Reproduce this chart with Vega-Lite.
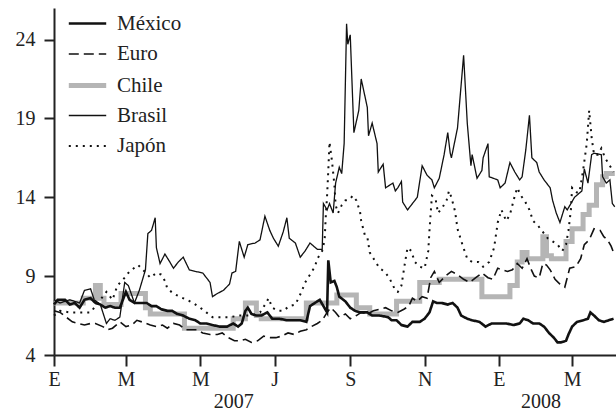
{
  "$schema": "https://vega.github.io/schema/vega-lite/v6.json",
  "width": 562,
  "height": 347,
  "autosize": {"type": "none"},
  "padding": {"left": 54, "top": 8, "right": 0, "bottom": 59},
  "background": "white",
  "config": {
    "view": {"stroke": null},
    "font": "Liberation Serif",
    "axis": {
      "labelFont": "Liberation Serif",
      "labelFontSize": 20,
      "labelColor": "#222222",
      "domainColor": "#222222",
      "tickColor": "#222222",
      "domainWidth": 2,
      "tickWidth": 2,
      "grid": false,
      "title": null,
      "labelFlush": false,
      "labelOverlap": false,
      "labelBound": false
    },
    "legend": {
      "orient": "none",
      "legendX": 12,
      "legendY": -5,
      "title": null,
      "symbolType": "stroke",
      "symbolSize": 1400,
      "labelFont": "Liberation Serif",
      "labelFontSize": 21,
      "labelColor": "#222222",
      "labelOffset": 8,
      "rowPadding": 0,
      "padding": 0
    }
  },
  "datasets": {
    "chile": [
      {"serie": "Chile", "fecha": "2007-01-01", "valor": 7.3},
      {"serie": "Chile", "fecha": "2007-01-25", "valor": 7.6},
      {"serie": "Chile", "fecha": "2007-02-04", "valor": 8.4},
      {"serie": "Chile", "fecha": "2007-02-08", "valor": 7.6},
      {"serie": "Chile", "fecha": "2007-02-11", "valor": 7.2},
      {"serie": "Chile", "fecha": "2007-02-25", "valor": 7.9},
      {"serie": "Chile", "fecha": "2007-03-17", "valor": 7.0},
      {"serie": "Chile", "fecha": "2007-03-21", "valor": 6.6},
      {"serie": "Chile", "fecha": "2007-04-18", "valor": 5.7},
      {"serie": "Chile", "fecha": "2007-05-28", "valor": 6.3},
      {"serie": "Chile", "fecha": "2007-06-07", "valor": 7.3},
      {"serie": "Chile", "fecha": "2007-06-16", "valor": 6.5},
      {"serie": "Chile", "fecha": "2007-06-20", "valor": 6.3},
      {"serie": "Chile", "fecha": "2007-07-27", "valor": 7.3},
      {"serie": "Chile", "fecha": "2007-08-21", "valor": 7.8},
      {"serie": "Chile", "fecha": "2007-09-06", "valor": 7.0},
      {"serie": "Chile", "fecha": "2007-09-17", "valor": 6.6},
      {"serie": "Chile", "fecha": "2007-10-09", "valor": 7.4},
      {"serie": "Chile", "fecha": "2007-10-28", "valor": 8.6},
      {"serie": "Chile", "fecha": "2007-11-13", "valor": 8.8},
      {"serie": "Chile", "fecha": "2007-12-18", "valor": 7.7},
      {"serie": "Chile", "fecha": "2008-01-10", "valor": 8.4},
      {"serie": "Chile", "fecha": "2008-01-16", "valor": 9.9},
      {"serie": "Chile", "fecha": "2008-01-20", "valor": 10.5},
      {"serie": "Chile", "fecha": "2008-01-24", "valor": 10.1},
      {"serie": "Chile", "fecha": "2008-02-06", "valor": 11.5},
      {"serie": "Chile", "fecha": "2008-02-09", "valor": 10.3},
      {"serie": "Chile", "fecha": "2008-02-13", "valor": 10.1},
      {"serie": "Chile", "fecha": "2008-02-25", "valor": 11.2},
      {"serie": "Chile", "fecha": "2008-03-01", "valor": 12.0},
      {"serie": "Chile", "fecha": "2008-03-10", "valor": 12.9},
      {"serie": "Chile", "fecha": "2008-03-15", "valor": 13.5},
      {"serie": "Chile", "fecha": "2008-03-21", "valor": 14.8},
      {"serie": "Chile", "fecha": "2008-03-26", "valor": 15.3},
      {"serie": "Chile", "fecha": "2008-03-29", "valor": 15.5},
      {"serie": "Chile", "fecha": "2008-04-05", "valor": 15.5}
    ],
    "lineas": [
      {"serie": "México", "fecha": "2007-01-01", "valor": 7.2},
      {"serie": "México", "fecha": "2007-01-04", "valor": 7.5},
      {"serie": "México", "fecha": "2007-01-10", "valor": 7.5},
      {"serie": "México", "fecha": "2007-01-14", "valor": 7.2},
      {"serie": "México", "fecha": "2007-01-18", "valor": 7.3},
      {"serie": "México", "fecha": "2007-01-22", "valor": 7.0},
      {"serie": "México", "fecha": "2007-01-26", "valor": 7.5},
      {"serie": "México", "fecha": "2007-01-31", "valor": 7.6},
      {"serie": "México", "fecha": "2007-02-04", "valor": 7.3},
      {"serie": "México", "fecha": "2007-02-08", "valor": 7.2},
      {"serie": "México", "fecha": "2007-02-12", "valor": 7.0},
      {"serie": "México", "fecha": "2007-02-16", "valor": 7.1},
      {"serie": "México", "fecha": "2007-02-20", "valor": 7.0},
      {"serie": "México", "fecha": "2007-02-24", "valor": 7.0},
      {"serie": "México", "fecha": "2007-02-27", "valor": 7.6},
      {"serie": "México", "fecha": "2007-03-01", "valor": 8.0},
      {"serie": "México", "fecha": "2007-03-04", "valor": 7.5},
      {"serie": "México", "fecha": "2007-03-08", "valor": 7.3},
      {"serie": "México", "fecha": "2007-03-12", "valor": 7.3},
      {"serie": "México", "fecha": "2007-03-18", "valor": 7.3},
      {"serie": "México", "fecha": "2007-03-22", "valor": 7.1},
      {"serie": "México", "fecha": "2007-03-26", "valor": 7.1},
      {"serie": "México", "fecha": "2007-03-30", "valor": 6.9},
      {"serie": "México", "fecha": "2007-04-04", "valor": 6.8},
      {"serie": "México", "fecha": "2007-04-08", "valor": 6.8},
      {"serie": "México", "fecha": "2007-04-12", "valor": 6.6},
      {"serie": "México", "fecha": "2007-04-17", "valor": 6.5},
      {"serie": "México", "fecha": "2007-04-22", "valor": 6.3},
      {"serie": "México", "fecha": "2007-04-27", "valor": 6.2},
      {"serie": "México", "fecha": "2007-05-01", "valor": 6.0},
      {"serie": "México", "fecha": "2007-05-06", "valor": 6.0},
      {"serie": "México", "fecha": "2007-05-11", "valor": 5.9},
      {"serie": "México", "fecha": "2007-05-17", "valor": 5.8},
      {"serie": "México", "fecha": "2007-05-23", "valor": 5.8},
      {"serie": "México", "fecha": "2007-05-28", "valor": 6.0},
      {"serie": "México", "fecha": "2007-06-01", "valor": 5.8},
      {"serie": "México", "fecha": "2007-06-04", "valor": 6.0},
      {"serie": "México", "fecha": "2007-06-07", "valor": 6.8},
      {"serie": "México", "fecha": "2007-06-09", "valor": 7.0},
      {"serie": "México", "fecha": "2007-06-12", "valor": 6.6},
      {"serie": "México", "fecha": "2007-06-16", "valor": 6.5},
      {"serie": "México", "fecha": "2007-06-20", "valor": 6.5},
      {"serie": "México", "fecha": "2007-06-25", "valor": 6.7},
      {"serie": "México", "fecha": "2007-06-29", "valor": 6.3},
      {"serie": "México", "fecha": "2007-07-05", "valor": 6.3},
      {"serie": "México", "fecha": "2007-07-11", "valor": 6.2},
      {"serie": "México", "fecha": "2007-07-16", "valor": 6.2},
      {"serie": "México", "fecha": "2007-07-22", "valor": 6.2},
      {"serie": "México", "fecha": "2007-07-27", "valor": 6.1},
      {"serie": "México", "fecha": "2007-07-30", "valor": 7.1},
      {"serie": "México", "fecha": "2007-08-03", "valor": 7.3},
      {"serie": "México", "fecha": "2007-08-07", "valor": 7.5},
      {"serie": "México", "fecha": "2007-08-10", "valor": 7.1},
      {"serie": "México", "fecha": "2007-08-13", "valor": 6.7},
      {"serie": "México", "fecha": "2007-08-14", "valor": 10.0},
      {"serie": "México", "fecha": "2007-08-16", "valor": 8.6},
      {"serie": "México", "fecha": "2007-08-19", "valor": 8.7},
      {"serie": "México", "fecha": "2007-08-21", "valor": 8.3},
      {"serie": "México", "fecha": "2007-08-23", "valor": 7.7},
      {"serie": "México", "fecha": "2007-08-28", "valor": 7.4},
      {"serie": "México", "fecha": "2007-09-01", "valor": 7.0},
      {"serie": "México", "fecha": "2007-09-05", "valor": 6.8},
      {"serie": "México", "fecha": "2007-09-09", "valor": 6.7},
      {"serie": "México", "fecha": "2007-09-15", "valor": 6.7},
      {"serie": "México", "fecha": "2007-09-19", "valor": 6.5},
      {"serie": "México", "fecha": "2007-09-25", "valor": 6.5},
      {"serie": "México", "fecha": "2007-10-02", "valor": 6.4},
      {"serie": "México", "fecha": "2007-10-05", "valor": 6.2},
      {"serie": "México", "fecha": "2007-10-09", "valor": 6.2},
      {"serie": "México", "fecha": "2007-10-13", "valor": 5.9},
      {"serie": "México", "fecha": "2007-10-18", "valor": 5.8},
      {"serie": "México", "fecha": "2007-10-22", "valor": 6.1},
      {"serie": "México", "fecha": "2007-10-28", "valor": 6.1},
      {"serie": "México", "fecha": "2007-11-01", "valor": 6.3},
      {"serie": "México", "fecha": "2007-11-05", "valor": 6.7},
      {"serie": "México", "fecha": "2007-11-08", "valor": 7.4},
      {"serie": "México", "fecha": "2007-11-11", "valor": 7.3},
      {"serie": "México", "fecha": "2007-11-15", "valor": 7.3},
      {"serie": "México", "fecha": "2007-11-20", "valor": 7.2},
      {"serie": "México", "fecha": "2007-11-24", "valor": 7.3},
      {"serie": "México", "fecha": "2007-11-28", "valor": 7.0},
      {"serie": "México", "fecha": "2007-12-01", "valor": 6.5},
      {"serie": "México", "fecha": "2007-12-06", "valor": 6.3},
      {"serie": "México", "fecha": "2007-12-10", "valor": 6.2},
      {"serie": "México", "fecha": "2007-12-16", "valor": 6.1},
      {"serie": "México", "fecha": "2007-12-21", "valor": 5.8},
      {"serie": "México", "fecha": "2007-12-26", "valor": 6.0},
      {"serie": "México", "fecha": "2008-01-02", "valor": 6.0},
      {"serie": "México", "fecha": "2008-01-07", "valor": 6.0},
      {"serie": "México", "fecha": "2008-01-13", "valor": 5.9},
      {"serie": "México", "fecha": "2008-01-18", "valor": 6.0},
      {"serie": "México", "fecha": "2008-01-21", "valor": 6.3},
      {"serie": "México", "fecha": "2008-01-25", "valor": 6.2},
      {"serie": "México", "fecha": "2008-01-29", "valor": 6.0},
      {"serie": "México", "fecha": "2008-02-03", "valor": 6.0},
      {"serie": "México", "fecha": "2008-02-07", "valor": 5.8},
      {"serie": "México", "fecha": "2008-02-11", "valor": 5.4},
      {"serie": "México", "fecha": "2008-02-15", "valor": 5.1},
      {"serie": "México", "fecha": "2008-02-18", "valor": 4.8},
      {"serie": "México", "fecha": "2008-02-21", "valor": 4.8},
      {"serie": "México", "fecha": "2008-02-25", "valor": 4.9},
      {"serie": "México", "fecha": "2008-02-27", "valor": 5.3},
      {"serie": "México", "fecha": "2008-03-01", "valor": 5.8},
      {"serie": "México", "fecha": "2008-03-05", "valor": 6.1},
      {"serie": "México", "fecha": "2008-03-10", "valor": 6.2},
      {"serie": "México", "fecha": "2008-03-14", "valor": 6.3},
      {"serie": "México", "fecha": "2008-03-16", "valor": 6.7},
      {"serie": "México", "fecha": "2008-03-19", "valor": 6.5},
      {"serie": "México", "fecha": "2008-03-23", "valor": 6.2},
      {"serie": "México", "fecha": "2008-03-27", "valor": 6.1},
      {"serie": "México", "fecha": "2008-03-31", "valor": 6.2},
      {"serie": "México", "fecha": "2008-04-04", "valor": 6.3},

      {"serie": "Euro", "fecha": "2007-01-01", "valor": 6.8},
      {"serie": "Euro", "fecha": "2007-01-06", "valor": 6.7},
      {"serie": "Euro", "fecha": "2007-01-11", "valor": 6.4},
      {"serie": "Euro", "fecha": "2007-01-16", "valor": 6.1},
      {"serie": "Euro", "fecha": "2007-01-21", "valor": 6.0},
      {"serie": "Euro", "fecha": "2007-01-26", "valor": 5.9},
      {"serie": "Euro", "fecha": "2007-01-31", "valor": 6.0},
      {"serie": "Euro", "fecha": "2007-02-04", "valor": 6.0},
      {"serie": "Euro", "fecha": "2007-02-10", "valor": 5.8},
      {"serie": "Euro", "fecha": "2007-02-14", "valor": 5.6},
      {"serie": "Euro", "fecha": "2007-02-18", "valor": 5.7},
      {"serie": "Euro", "fecha": "2007-02-24", "valor": 6.1},
      {"serie": "Euro", "fecha": "2007-03-01", "valor": 5.8},
      {"serie": "Euro", "fecha": "2007-03-06", "valor": 5.9},
      {"serie": "Euro", "fecha": "2007-03-10", "valor": 6.2},
      {"serie": "Euro", "fecha": "2007-03-14", "valor": 6.1},
      {"serie": "Euro", "fecha": "2007-03-21", "valor": 5.9},
      {"serie": "Euro", "fecha": "2007-03-26", "valor": 5.8},
      {"serie": "Euro", "fecha": "2007-03-31", "valor": 5.9},
      {"serie": "Euro", "fecha": "2007-04-04", "valor": 5.7},
      {"serie": "Euro", "fecha": "2007-04-09", "valor": 6.0},
      {"serie": "Euro", "fecha": "2007-04-14", "valor": 5.9},
      {"serie": "Euro", "fecha": "2007-04-19", "valor": 5.6},
      {"serie": "Euro", "fecha": "2007-04-24", "valor": 5.6},
      {"serie": "Euro", "fecha": "2007-04-28", "valor": 5.6},
      {"serie": "Euro", "fecha": "2007-05-03", "valor": 5.4},
      {"serie": "Euro", "fecha": "2007-05-09", "valor": 5.3},
      {"serie": "Euro", "fecha": "2007-05-15", "valor": 5.3},
      {"serie": "Euro", "fecha": "2007-05-19", "valor": 5.4},
      {"serie": "Euro", "fecha": "2007-05-24", "valor": 5.1},
      {"serie": "Euro", "fecha": "2007-05-29", "valor": 4.9},
      {"serie": "Euro", "fecha": "2007-06-02", "valor": 4.9},
      {"serie": "Euro", "fecha": "2007-06-07", "valor": 5.0},
      {"serie": "Euro", "fecha": "2007-06-12", "valor": 4.8},
      {"serie": "Euro", "fecha": "2007-06-17", "valor": 4.9},
      {"serie": "Euro", "fecha": "2007-06-22", "valor": 5.2},
      {"serie": "Euro", "fecha": "2007-06-27", "valor": 5.1},
      {"serie": "Euro", "fecha": "2007-07-02", "valor": 5.1},
      {"serie": "Euro", "fecha": "2007-07-07", "valor": 5.2},
      {"serie": "Euro", "fecha": "2007-07-12", "valor": 5.4},
      {"serie": "Euro", "fecha": "2007-07-17", "valor": 5.3},
      {"serie": "Euro", "fecha": "2007-07-22", "valor": 5.5},
      {"serie": "Euro", "fecha": "2007-07-27", "valor": 5.6},
      {"serie": "Euro", "fecha": "2007-07-31", "valor": 5.8},
      {"serie": "Euro", "fecha": "2007-08-05", "valor": 6.0},
      {"serie": "Euro", "fecha": "2007-08-09", "valor": 6.2},
      {"serie": "Euro", "fecha": "2007-08-13", "valor": 6.7},
      {"serie": "Euro", "fecha": "2007-08-16", "valor": 7.0},
      {"serie": "Euro", "fecha": "2007-08-20", "valor": 6.7},
      {"serie": "Euro", "fecha": "2007-08-23", "valor": 6.4},
      {"serie": "Euro", "fecha": "2007-08-28", "valor": 6.6},
      {"serie": "Euro", "fecha": "2007-09-01", "valor": 6.3},
      {"serie": "Euro", "fecha": "2007-09-06", "valor": 6.5},
      {"serie": "Euro", "fecha": "2007-09-10", "valor": 6.7},
      {"serie": "Euro", "fecha": "2007-09-15", "valor": 6.6},
      {"serie": "Euro", "fecha": "2007-09-20", "valor": 6.8},
      {"serie": "Euro", "fecha": "2007-09-25", "valor": 6.9},
      {"serie": "Euro", "fecha": "2007-09-30", "valor": 7.0},
      {"serie": "Euro", "fecha": "2007-10-05", "valor": 6.8},
      {"serie": "Euro", "fecha": "2007-10-10", "valor": 6.7},
      {"serie": "Euro", "fecha": "2007-10-15", "valor": 6.9},
      {"serie": "Euro", "fecha": "2007-10-19", "valor": 7.1},
      {"serie": "Euro", "fecha": "2007-10-22", "valor": 7.6},
      {"serie": "Euro", "fecha": "2007-10-26", "valor": 7.4},
      {"serie": "Euro", "fecha": "2007-10-30", "valor": 7.7},
      {"serie": "Euro", "fecha": "2007-11-03", "valor": 7.6},
      {"serie": "Euro", "fecha": "2007-11-06", "valor": 8.9},
      {"serie": "Euro", "fecha": "2007-11-09", "valor": 9.3},
      {"serie": "Euro", "fecha": "2007-11-13", "valor": 8.6},
      {"serie": "Euro", "fecha": "2007-11-18", "valor": 9.0},
      {"serie": "Euro", "fecha": "2007-11-23", "valor": 9.3},
      {"serie": "Euro", "fecha": "2007-11-28", "valor": 9.1},
      {"serie": "Euro", "fecha": "2007-12-03", "valor": 8.8},
      {"serie": "Euro", "fecha": "2007-12-08", "valor": 8.6},
      {"serie": "Euro", "fecha": "2007-12-13", "valor": 8.9},
      {"serie": "Euro", "fecha": "2007-12-18", "valor": 9.2},
      {"serie": "Euro", "fecha": "2007-12-23", "valor": 8.9},
      {"serie": "Euro", "fecha": "2007-12-27", "valor": 8.8},
      {"serie": "Euro", "fecha": "2007-12-31", "valor": 9.5},
      {"serie": "Euro", "fecha": "2008-01-04", "valor": 9.4},
      {"serie": "Euro", "fecha": "2008-01-08", "valor": 9.3},
      {"serie": "Euro", "fecha": "2008-01-12", "valor": 9.4},
      {"serie": "Euro", "fecha": "2008-01-16", "valor": 9.8},
      {"serie": "Euro", "fecha": "2008-01-20", "valor": 9.5},
      {"serie": "Euro", "fecha": "2008-01-24", "valor": 10.1},
      {"serie": "Euro", "fecha": "2008-01-27", "valor": 9.5},
      {"serie": "Euro", "fecha": "2008-01-30", "valor": 9.0},
      {"serie": "Euro", "fecha": "2008-02-03", "valor": 8.9},
      {"serie": "Euro", "fecha": "2008-02-06", "valor": 9.8},
      {"serie": "Euro", "fecha": "2008-02-09", "valor": 9.7},
      {"serie": "Euro", "fecha": "2008-02-12", "valor": 9.4},
      {"serie": "Euro", "fecha": "2008-02-16", "valor": 8.8},
      {"serie": "Euro", "fecha": "2008-02-20", "valor": 8.5},
      {"serie": "Euro", "fecha": "2008-02-24", "valor": 8.3},
      {"serie": "Euro", "fecha": "2008-02-28", "valor": 9.5},
      {"serie": "Euro", "fecha": "2008-03-04", "valor": 9.6},
      {"serie": "Euro", "fecha": "2008-03-08", "valor": 10.1},
      {"serie": "Euro", "fecha": "2008-03-11", "valor": 11.0},
      {"serie": "Euro", "fecha": "2008-03-15", "valor": 11.3},
      {"serie": "Euro", "fecha": "2008-03-19", "valor": 12.0},
      {"serie": "Euro", "fecha": "2008-03-24", "valor": 11.9},
      {"serie": "Euro", "fecha": "2008-03-27", "valor": 11.5},
      {"serie": "Euro", "fecha": "2008-03-30", "valor": 11.3},
      {"serie": "Euro", "fecha": "2008-04-02", "valor": 10.9},
      {"serie": "Euro", "fecha": "2008-04-05", "valor": 10.3},

      {"serie": "Brasil", "fecha": "2007-01-01", "valor": 7.5},
      {"serie": "Brasil", "fecha": "2007-01-06", "valor": 7.3},
      {"serie": "Brasil", "fecha": "2007-01-14", "valor": 7.5},
      {"serie": "Brasil", "fecha": "2007-01-22", "valor": 7.3},
      {"serie": "Brasil", "fecha": "2007-01-26", "valor": 8.1},
      {"serie": "Brasil", "fecha": "2007-01-31", "valor": 8.2},
      {"serie": "Brasil", "fecha": "2007-02-03", "valor": 7.5},
      {"serie": "Brasil", "fecha": "2007-02-08", "valor": 7.2},
      {"serie": "Brasil", "fecha": "2007-02-13", "valor": 6.0},
      {"serie": "Brasil", "fecha": "2007-02-16", "valor": 6.3},
      {"serie": "Brasil", "fecha": "2007-02-20", "valor": 6.2},
      {"serie": "Brasil", "fecha": "2007-02-24", "valor": 6.4},
      {"serie": "Brasil", "fecha": "2007-02-28", "valor": 8.6},
      {"serie": "Brasil", "fecha": "2007-03-03", "valor": 8.4},
      {"serie": "Brasil", "fecha": "2007-03-08", "valor": 7.3},
      {"serie": "Brasil", "fecha": "2007-03-12", "valor": 8.1},
      {"serie": "Brasil", "fecha": "2007-03-17", "valor": 9.4},
      {"serie": "Brasil", "fecha": "2007-03-19", "valor": 11.7},
      {"serie": "Brasil", "fecha": "2007-03-22", "valor": 11.9},
      {"serie": "Brasil", "fecha": "2007-03-25", "valor": 12.7},
      {"serie": "Brasil", "fecha": "2007-03-26", "valor": 10.8},
      {"serie": "Brasil", "fecha": "2007-03-29", "valor": 9.8},
      {"serie": "Brasil", "fecha": "2007-04-02", "valor": 10.4},
      {"serie": "Brasil", "fecha": "2007-04-06", "valor": 9.9},
      {"serie": "Brasil", "fecha": "2007-04-09", "valor": 9.5},
      {"serie": "Brasil", "fecha": "2007-04-13", "valor": 9.9},
      {"serie": "Brasil", "fecha": "2007-04-17", "valor": 10.2},
      {"serie": "Brasil", "fecha": "2007-04-22", "valor": 9.4},
      {"serie": "Brasil", "fecha": "2007-04-27", "valor": 9.3},
      {"serie": "Brasil", "fecha": "2007-05-03", "valor": 9.2},
      {"serie": "Brasil", "fecha": "2007-05-09", "valor": 8.6},
      {"serie": "Brasil", "fecha": "2007-05-11", "valor": 7.7},
      {"serie": "Brasil", "fecha": "2007-05-15", "valor": 7.9},
      {"serie": "Brasil", "fecha": "2007-05-20", "valor": 8.1},
      {"serie": "Brasil", "fecha": "2007-05-25", "valor": 8.5},
      {"serie": "Brasil", "fecha": "2007-05-27", "valor": 9.2},
      {"serie": "Brasil", "fecha": "2007-05-30", "valor": 9.3},
      {"serie": "Brasil", "fecha": "2007-06-02", "valor": 11.2},
      {"serie": "Brasil", "fecha": "2007-06-06", "valor": 10.2},
      {"serie": "Brasil", "fecha": "2007-06-09", "valor": 11.0},
      {"serie": "Brasil", "fecha": "2007-06-15", "valor": 11.1},
      {"serie": "Brasil", "fecha": "2007-06-19", "valor": 11.3},
      {"serie": "Brasil", "fecha": "2007-06-23", "valor": 12.8},
      {"serie": "Brasil", "fecha": "2007-06-27", "valor": 11.9},
      {"serie": "Brasil", "fecha": "2007-06-30", "valor": 11.4},
      {"serie": "Brasil", "fecha": "2007-07-04", "valor": 10.9},
      {"serie": "Brasil", "fecha": "2007-07-08", "valor": 11.8},
      {"serie": "Brasil", "fecha": "2007-07-11", "valor": 12.7},
      {"serie": "Brasil", "fecha": "2007-07-13", "valor": 11.4},
      {"serie": "Brasil", "fecha": "2007-07-18", "valor": 11.1},
      {"serie": "Brasil", "fecha": "2007-07-22", "valor": 10.2},
      {"serie": "Brasil", "fecha": "2007-07-26", "valor": 10.6},
      {"serie": "Brasil", "fecha": "2007-07-30", "valor": 11.1},
      {"serie": "Brasil", "fecha": "2007-08-05", "valor": 10.7},
      {"serie": "Brasil", "fecha": "2007-08-09", "valor": 10.7},
      {"serie": "Brasil", "fecha": "2007-08-10", "valor": 13.6},
      {"serie": "Brasil", "fecha": "2007-08-13", "valor": 13.2},
      {"serie": "Brasil", "fecha": "2007-08-15", "valor": 13.6},
      {"serie": "Brasil", "fecha": "2007-08-18", "valor": 13.0},
      {"serie": "Brasil", "fecha": "2007-08-20", "valor": 14.9},
      {"serie": "Brasil", "fecha": "2007-08-23", "valor": 15.9},
      {"serie": "Brasil", "fecha": "2007-08-25", "valor": 15.5},
      {"serie": "Brasil", "fecha": "2007-08-27", "valor": 17.4},
      {"serie": "Brasil", "fecha": "2007-08-29", "valor": 25.0},
      {"serie": "Brasil", "fecha": "2007-08-30", "valor": 23.7},
      {"serie": "Brasil", "fecha": "2007-09-01", "valor": 24.3},
      {"serie": "Brasil", "fecha": "2007-09-04", "valor": 18.1},
      {"serie": "Brasil", "fecha": "2007-09-08", "valor": 19.5},
      {"serie": "Brasil", "fecha": "2007-09-10", "valor": 21.5},
      {"serie": "Brasil", "fecha": "2007-09-15", "valor": 19.7},
      {"serie": "Brasil", "fecha": "2007-09-16", "valor": 17.9},
      {"serie": "Brasil", "fecha": "2007-09-19", "valor": 18.7},
      {"serie": "Brasil", "fecha": "2007-09-23", "valor": 17.4},
      {"serie": "Brasil", "fecha": "2007-09-24", "valor": 15.6},
      {"serie": "Brasil", "fecha": "2007-09-28", "valor": 16.1},
      {"serie": "Brasil", "fecha": "2007-09-30", "valor": 14.6},
      {"serie": "Brasil", "fecha": "2007-10-06", "valor": 14.9},
      {"serie": "Brasil", "fecha": "2007-10-08", "valor": 14.4},
      {"serie": "Brasil", "fecha": "2007-10-10", "valor": 14.6},
      {"serie": "Brasil", "fecha": "2007-10-13", "valor": 15.0},
      {"serie": "Brasil", "fecha": "2007-10-14", "valor": 13.7},
      {"serie": "Brasil", "fecha": "2007-10-18", "valor": 13.2},
      {"serie": "Brasil", "fecha": "2007-10-22", "valor": 13.6},
      {"serie": "Brasil", "fecha": "2007-10-26", "valor": 14.0},
      {"serie": "Brasil", "fecha": "2007-10-30", "valor": 16.0},
      {"serie": "Brasil", "fecha": "2007-11-03", "valor": 15.4},
      {"serie": "Brasil", "fecha": "2007-11-07", "valor": 15.1},
      {"serie": "Brasil", "fecha": "2007-11-09", "valor": 14.6},
      {"serie": "Brasil", "fecha": "2007-11-13", "valor": 15.2},
      {"serie": "Brasil", "fecha": "2007-11-17", "valor": 16.7},
      {"serie": "Brasil", "fecha": "2007-11-20", "valor": 18.1},
      {"serie": "Brasil", "fecha": "2007-11-22", "valor": 16.8},
      {"serie": "Brasil", "fecha": "2007-11-23", "valor": 16.5},
      {"serie": "Brasil", "fecha": "2007-11-28", "valor": 18.4},
      {"serie": "Brasil", "fecha": "2007-12-03", "valor": 23.0},
      {"serie": "Brasil", "fecha": "2007-12-06", "valor": 18.7},
      {"serie": "Brasil", "fecha": "2007-12-09", "valor": 16.0},
      {"serie": "Brasil", "fecha": "2007-12-10", "valor": 16.7},
      {"serie": "Brasil", "fecha": "2007-12-14", "valor": 15.2},
      {"serie": "Brasil", "fecha": "2007-12-18", "valor": 15.7},
      {"serie": "Brasil", "fecha": "2007-12-19", "valor": 16.5},
      {"serie": "Brasil", "fecha": "2007-12-23", "valor": 17.4},
      {"serie": "Brasil", "fecha": "2007-12-24", "valor": 15.3},
      {"serie": "Brasil", "fecha": "2007-12-31", "valor": 15.1},
      {"serie": "Brasil", "fecha": "2008-01-02", "valor": 14.6},
      {"serie": "Brasil", "fecha": "2008-01-06", "valor": 14.9},
      {"serie": "Brasil", "fecha": "2008-01-10", "valor": 16.2},
      {"serie": "Brasil", "fecha": "2008-01-14", "valor": 15.6},
      {"serie": "Brasil", "fecha": "2008-01-18", "valor": 15.1},
      {"serie": "Brasil", "fecha": "2008-01-20", "valor": 15.3},
      {"serie": "Brasil", "fecha": "2008-01-23", "valor": 17.0},
      {"serie": "Brasil", "fecha": "2008-01-26", "valor": 19.2},
      {"serie": "Brasil", "fecha": "2008-01-28", "valor": 16.5},
      {"serie": "Brasil", "fecha": "2008-02-01", "valor": 16.2},
      {"serie": "Brasil", "fecha": "2008-02-03", "valor": 15.6},
      {"serie": "Brasil", "fecha": "2008-02-07", "valor": 15.1},
      {"serie": "Brasil", "fecha": "2008-02-12", "valor": 14.6},
      {"serie": "Brasil", "fecha": "2008-02-14", "valor": 13.8},
      {"serie": "Brasil", "fecha": "2008-02-17", "valor": 13.0},
      {"serie": "Brasil", "fecha": "2008-02-20", "valor": 12.4},
      {"serie": "Brasil", "fecha": "2008-02-24", "valor": 13.4},
      {"serie": "Brasil", "fecha": "2008-02-26", "valor": 13.2},
      {"serie": "Brasil", "fecha": "2008-03-03", "valor": 14.0},
      {"serie": "Brasil", "fecha": "2008-03-09", "valor": 14.4},
      {"serie": "Brasil", "fecha": "2008-03-11", "valor": 15.8},
      {"serie": "Brasil", "fecha": "2008-03-14", "valor": 14.9},
      {"serie": "Brasil", "fecha": "2008-03-17", "valor": 16.7},
      {"serie": "Brasil", "fecha": "2008-03-19", "valor": 16.8},
      {"serie": "Brasil", "fecha": "2008-03-25", "valor": 16.7},
      {"serie": "Brasil", "fecha": "2008-03-26", "valor": 15.3},
      {"serie": "Brasil", "fecha": "2008-03-29", "valor": 14.9},
      {"serie": "Brasil", "fecha": "2008-04-01", "valor": 15.1},
      {"serie": "Brasil", "fecha": "2008-04-03", "valor": 13.6},
      {"serie": "Brasil", "fecha": "2008-04-05", "valor": 13.4},

      {"serie": "Japón", "fecha": "2007-01-01", "valor": 6.5},
      {"serie": "Japón", "fecha": "2007-01-06", "valor": 6.8},
      {"serie": "Japón", "fecha": "2007-01-14", "valor": 6.7},
      {"serie": "Japón", "fecha": "2007-01-22", "valor": 6.7},
      {"serie": "Japón", "fecha": "2007-01-31", "valor": 6.7},
      {"serie": "Japón", "fecha": "2007-02-08", "valor": 7.5},
      {"serie": "Japón", "fecha": "2007-02-13", "valor": 8.0},
      {"serie": "Japón", "fecha": "2007-02-18", "valor": 7.5},
      {"serie": "Japón", "fecha": "2007-02-22", "valor": 8.4},
      {"serie": "Japón", "fecha": "2007-02-28", "valor": 8.9},
      {"serie": "Japón", "fecha": "2007-03-04", "valor": 9.3},
      {"serie": "Japón", "fecha": "2007-03-11", "valor": 9.7},
      {"serie": "Japón", "fecha": "2007-03-15", "valor": 9.4},
      {"serie": "Japón", "fecha": "2007-03-21", "valor": 8.9},
      {"serie": "Japón", "fecha": "2007-03-26", "valor": 9.2},
      {"serie": "Japón", "fecha": "2007-03-30", "valor": 9.1},
      {"serie": "Japón", "fecha": "2007-04-02", "valor": 8.7},
      {"serie": "Japón", "fecha": "2007-04-04", "valor": 8.2},
      {"serie": "Japón", "fecha": "2007-04-09", "valor": 7.9},
      {"serie": "Japón", "fecha": "2007-04-14", "valor": 7.7},
      {"serie": "Japón", "fecha": "2007-04-20", "valor": 7.5},
      {"serie": "Japón", "fecha": "2007-04-25", "valor": 7.3},
      {"serie": "Japón", "fecha": "2007-05-01", "valor": 7.0},
      {"serie": "Japón", "fecha": "2007-05-06", "valor": 6.7},
      {"serie": "Japón", "fecha": "2007-05-11", "valor": 6.4},
      {"serie": "Japón", "fecha": "2007-05-17", "valor": 6.4},
      {"serie": "Japón", "fecha": "2007-05-25", "valor": 6.4},
      {"serie": "Japón", "fecha": "2007-06-02", "valor": 6.5},
      {"serie": "Japón", "fecha": "2007-06-12", "valor": 6.5},
      {"serie": "Japón", "fecha": "2007-06-19", "valor": 6.7},
      {"serie": "Japón", "fecha": "2007-06-24", "valor": 7.3},
      {"serie": "Japón", "fecha": "2007-06-26", "valor": 7.6},
      {"serie": "Japón", "fecha": "2007-06-29", "valor": 7.0},
      {"serie": "Japón", "fecha": "2007-07-04", "valor": 6.8},
      {"serie": "Japón", "fecha": "2007-07-08", "valor": 6.8},
      {"serie": "Japón", "fecha": "2007-07-13", "valor": 7.1},
      {"serie": "Japón", "fecha": "2007-07-18", "valor": 7.2},
      {"serie": "Japón", "fecha": "2007-07-23", "valor": 8.0},
      {"serie": "Japón", "fecha": "2007-07-26", "valor": 8.6},
      {"serie": "Japón", "fecha": "2007-07-30", "valor": 9.1},
      {"serie": "Japón", "fecha": "2007-08-03", "valor": 9.6},
      {"serie": "Japón", "fecha": "2007-08-05", "valor": 10.1},
      {"serie": "Japón", "fecha": "2007-08-09", "valor": 10.6},
      {"serie": "Japón", "fecha": "2007-08-11", "valor": 11.3},
      {"serie": "Japón", "fecha": "2007-08-12", "valor": 12.9},
      {"serie": "Japón", "fecha": "2007-08-13", "valor": 14.1},
      {"serie": "Japón", "fecha": "2007-08-14", "valor": 15.7},
      {"serie": "Japón", "fecha": "2007-08-15", "valor": 17.5},
      {"serie": "Japón", "fecha": "2007-08-17", "valor": 16.3},
      {"serie": "Japón", "fecha": "2007-08-19", "valor": 14.8},
      {"serie": "Japón", "fecha": "2007-08-20", "valor": 13.5},
      {"serie": "Japón", "fecha": "2007-08-22", "valor": 13.0},
      {"serie": "Japón", "fecha": "2007-08-25", "valor": 13.5},
      {"serie": "Japón", "fecha": "2007-08-28", "valor": 13.8},
      {"serie": "Japón", "fecha": "2007-09-01", "valor": 13.9},
      {"serie": "Japón", "fecha": "2007-09-03", "valor": 14.1},
      {"serie": "Japón", "fecha": "2007-09-06", "valor": 13.8},
      {"serie": "Japón", "fecha": "2007-09-09", "valor": 13.1},
      {"serie": "Japón", "fecha": "2007-09-10", "valor": 12.5},
      {"serie": "Japón", "fecha": "2007-09-13", "valor": 11.6},
      {"serie": "Japón", "fecha": "2007-09-15", "valor": 11.5},
      {"serie": "Japón", "fecha": "2007-09-17", "valor": 10.5},
      {"serie": "Japón", "fecha": "2007-09-21", "valor": 10.0},
      {"serie": "Japón", "fecha": "2007-09-25", "valor": 9.5},
      {"serie": "Japón", "fecha": "2007-09-29", "valor": 9.3},
      {"serie": "Japón", "fecha": "2007-10-03", "valor": 8.9},
      {"serie": "Japón", "fecha": "2007-10-08", "valor": 8.1},
      {"serie": "Japón", "fecha": "2007-10-10", "valor": 8.0},
      {"serie": "Japón", "fecha": "2007-10-13", "valor": 8.4},
      {"serie": "Japón", "fecha": "2007-10-16", "valor": 9.9},
      {"serie": "Japón", "fecha": "2007-10-18", "valor": 10.8},
      {"serie": "Japón", "fecha": "2007-10-21", "valor": 10.6},
      {"serie": "Japón", "fecha": "2007-10-24", "valor": 9.9},
      {"serie": "Japón", "fecha": "2007-10-28", "valor": 9.6},
      {"serie": "Japón", "fecha": "2007-11-01", "valor": 9.5},
      {"serie": "Japón", "fecha": "2007-11-04", "valor": 10.6},
      {"serie": "Japón", "fecha": "2007-11-05", "valor": 11.9},
      {"serie": "Japón", "fecha": "2007-11-07", "valor": 14.1},
      {"serie": "Japón", "fecha": "2007-11-10", "valor": 13.9},
      {"serie": "Japón", "fecha": "2007-11-12", "valor": 13.0},
      {"serie": "Japón", "fecha": "2007-11-16", "valor": 13.4},
      {"serie": "Japón", "fecha": "2007-11-19", "valor": 13.8},
      {"serie": "Japón", "fecha": "2007-11-21", "valor": 14.4},
      {"serie": "Japón", "fecha": "2007-11-23", "valor": 14.0},
      {"serie": "Japón", "fecha": "2007-11-26", "valor": 13.1},
      {"serie": "Japón", "fecha": "2007-11-28", "valor": 12.0},
      {"serie": "Japón", "fecha": "2007-12-02", "valor": 11.0},
      {"serie": "Japón", "fecha": "2007-12-06", "valor": 10.1},
      {"serie": "Japón", "fecha": "2007-12-10", "valor": 9.9},
      {"serie": "Japón", "fecha": "2007-12-15", "valor": 9.9},
      {"serie": "Japón", "fecha": "2007-12-19", "valor": 9.6},
      {"serie": "Japón", "fecha": "2007-12-24", "valor": 9.9},
      {"serie": "Japón", "fecha": "2007-12-28", "valor": 10.8},
      {"serie": "Japón", "fecha": "2007-12-31", "valor": 12.4},
      {"serie": "Japón", "fecha": "2008-01-03", "valor": 13.2},
      {"serie": "Japón", "fecha": "2008-01-07", "valor": 12.5},
      {"serie": "Japón", "fecha": "2008-01-10", "valor": 12.9},
      {"serie": "Japón", "fecha": "2008-01-14", "valor": 14.1},
      {"serie": "Japón", "fecha": "2008-01-16", "valor": 14.6},
      {"serie": "Japón", "fecha": "2008-01-19", "valor": 14.1},
      {"serie": "Japón", "fecha": "2008-01-22", "valor": 13.8},
      {"serie": "Japón", "fecha": "2008-01-26", "valor": 13.2},
      {"serie": "Japón", "fecha": "2008-01-29", "valor": 12.5},
      {"serie": "Japón", "fecha": "2008-02-02", "valor": 12.2},
      {"serie": "Japón", "fecha": "2008-02-06", "valor": 11.8},
      {"serie": "Japón", "fecha": "2008-02-10", "valor": 11.4},
      {"serie": "Japón", "fecha": "2008-02-14", "valor": 11.2},
      {"serie": "Japón", "fecha": "2008-02-18", "valor": 11.0},
      {"serie": "Japón", "fecha": "2008-02-22", "valor": 10.6},
      {"serie": "Japón", "fecha": "2008-02-25", "valor": 11.0},
      {"serie": "Japón", "fecha": "2008-02-27", "valor": 11.9},
      {"serie": "Japón", "fecha": "2008-02-29", "valor": 13.2},
      {"serie": "Japón", "fecha": "2008-03-01", "valor": 14.6},
      {"serie": "Japón", "fecha": "2008-03-05", "valor": 14.3},
      {"serie": "Japón", "fecha": "2008-03-07", "valor": 14.3},
      {"serie": "Japón", "fecha": "2008-03-10", "valor": 15.7},
      {"serie": "Japón", "fecha": "2008-03-13", "valor": 17.4},
      {"serie": "Japón", "fecha": "2008-03-15", "valor": 19.5},
      {"serie": "Japón", "fecha": "2008-03-17", "valor": 17.8},
      {"serie": "Japón", "fecha": "2008-03-19", "valor": 16.7},
      {"serie": "Japón", "fecha": "2008-03-22", "valor": 16.7},
      {"serie": "Japón", "fecha": "2008-03-25", "valor": 17.1},
      {"serie": "Japón", "fecha": "2008-03-28", "valor": 16.5},
      {"serie": "Japón", "fecha": "2008-04-01", "valor": 16.0},
      {"serie": "Japón", "fecha": "2008-04-04", "valor": 15.6}
    ]
  },
  "layer": [
    {
      "data": {"name": "chile"},
      "mark": {"type": "line", "interpolate": "step-after"},
      "encoding": {
        "x": {
          "field": "fecha",
          "type": "temporal",
          "scale": {
            "type": "utc",
            "domain": [
              {"year": 2007, "month": 1, "date": 1, "utc": true},
              {"year": 2008, "month": 4, "date": 6, "utc": true}
            ]
          },
          "axis": {
            "values": [
              {"year": 2007, "month": 1, "date": 1, "utc": true},
              {"year": 2007, "month": 3, "date": 1, "utc": true},
              {"year": 2007, "month": 5, "date": 1, "utc": true},
              {"year": 2007, "month": 7, "date": 1, "utc": true},
              {"year": 2007, "month": 9, "date": 1, "utc": true},
              {"year": 2007, "month": 11, "date": 1, "utc": true},
              {"year": 2008, "month": 1, "date": 1, "utc": true},
              {"year": 2008, "month": 3, "date": 1, "utc": true}
            ],
            "labelExpr": "['E','F','M','A','M','J','J','A','S','O','N','D'][utcmonth(datum.value)]",
            "tickSize": 11,
            "labelPadding": 3
          }
        },
        "y": {
          "field": "valor",
          "type": "quantitative",
          "scale": {"domain": [4, 26], "nice": false, "zero": false},
          "axis": {"values": [4, 9, 14, 19, 24], "tickSize": 10, "labelPadding": 9}
        },
        "color": {
          "field": "serie",
          "type": "nominal",
          "scale": {
            "domain": ["México", "Euro", "Chile", "Brasil", "Japón"],
            "range": ["#111111", "#111111", "#b5b5b5", "#111111", "#111111"]
          }
        },
        "strokeDash": {
          "field": "serie",
          "type": "nominal",
          "scale": {
            "domain": ["México", "Euro", "Chile", "Brasil", "Japón"],
            "range": [[1, 0], [10, 5], [1, 0], [1, 0], [2, 5]]
          }
        },
        "strokeWidth": {
          "field": "serie",
          "type": "nominal",
          "scale": {
            "type": "ordinal",
            "domain": ["México", "Euro", "Chile", "Brasil", "Japón"],
            "range": [2.6, 1.6, 5, 1.3, 2]
          }
        }
      }
    },
    {
      "data": {"name": "lineas"},
      "mark": {"type": "line"},
      "encoding": {
        "x": {
          "field": "fecha",
          "type": "temporal",
          "scale": {
            "type": "utc",
            "domain": [
              {"year": 2007, "month": 1, "date": 1, "utc": true},
              {"year": 2008, "month": 4, "date": 6, "utc": true}
            ]
          },
          "axis": {
            "orient": "bottom",
            "values": [
              {"year": 2007, "month": 5, "date": 28, "utc": true},
              {"year": 2008, "month": 2, "date": 4, "utc": true}
            ],
            "format": "%Y",
            "domain": false,
            "ticks": false,
            "tickSize": 0,
            "labelPadding": 36
          }
        },
        "y": {
          "field": "valor",
          "type": "quantitative",
          "scale": {"domain": [4, 26], "nice": false, "zero": false},
          "axis": {"values": [4, 9, 14, 19, 24], "tickSize": 10, "labelPadding": 9}
        },
        "color": {
          "field": "serie",
          "type": "nominal",
          "scale": {
            "domain": ["México", "Euro", "Chile", "Brasil", "Japón"],
            "range": ["#111111", "#111111", "#b5b5b5", "#111111", "#111111"]
          }
        },
        "strokeDash": {
          "field": "serie",
          "type": "nominal",
          "scale": {
            "domain": ["México", "Euro", "Chile", "Brasil", "Japón"],
            "range": [[1, 0], [10, 5], [1, 0], [1, 0], [2, 5]]
          }
        },
        "strokeWidth": {
          "field": "serie",
          "type": "nominal",
          "scale": {
            "type": "ordinal",
            "domain": ["México", "Euro", "Chile", "Brasil", "Japón"],
            "range": [2.6, 1.6, 5, 1.3, 2]
          }
        }
      }
    }
  ],
  "resolve": {"axis": {"x": "independent"}}
}
